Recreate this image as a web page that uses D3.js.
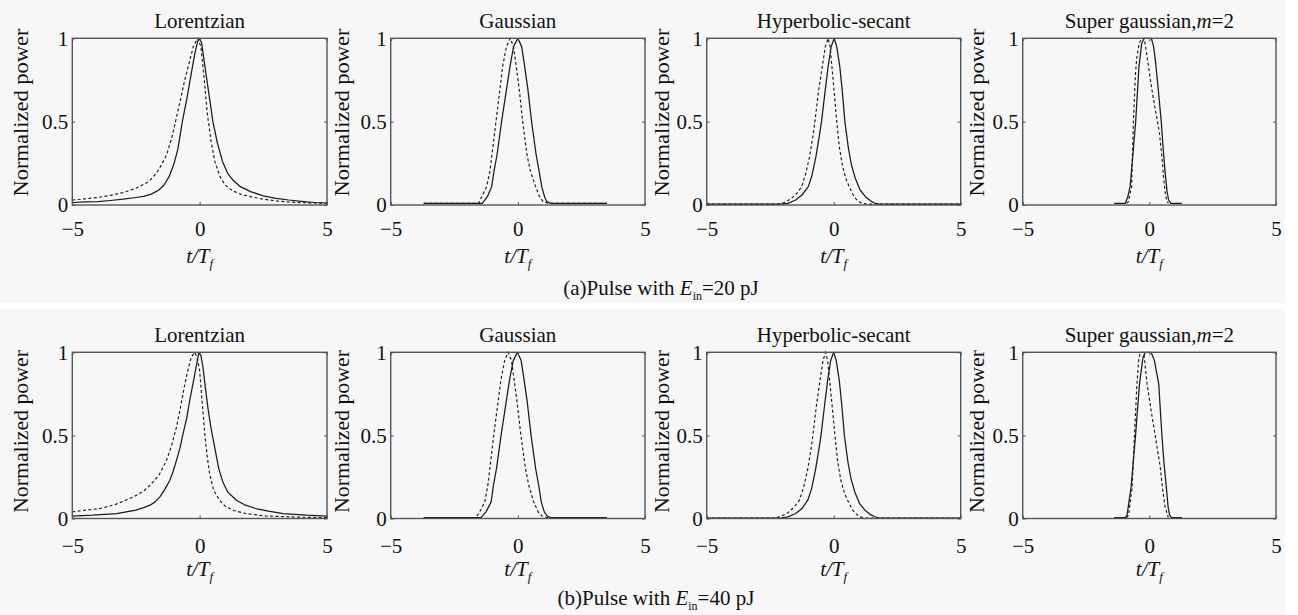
<!DOCTYPE html>
<html><head><meta charset="utf-8">
<script src="https://cdn.jsdelivr.net/npm/d3@7"></script>
<style>
html,body{margin:0;padding:0;background:#fff;}
svg text{font-family:"Liberation Serif","Times New Roman",serif;fill:#111;}
</style></head><body>
<svg id="chart" width="1298" height="615"></svg>
<script>
// ---------------- data (t/T_f , normalized power) ----------------
const panelTitles = ["Lorentzian", "Gaussian", "Hyperbolic-secant", "Super gaussian,m=2"];
const captionEnergies = ["20", "40"];
const captionLetters = ["(a)", "(b)"];
const xTicks = [-5, 0, 5];
const xTickLabels = ["\u22125", "0", "5"];
const yTicks = [0, 0.5, 1];
const yTickLabels = ["0", "0.5", "1"];

// Row (a): Ein = 20 pJ
const lor20Solid = [[-5,0.015],[-4.5,0.018],[-4,0.02],[-3.5,0.027],[-3,0.035],[-2.5,0.045],[-2.2,0.052],[-1.9,0.065],[-1.6,0.09],[-1.4,0.12],[-1.2,0.17],[-1.0,0.25],[-0.85,0.34],[-0.68,0.5],[-0.5,0.64],[-0.35,0.77],[-0.2,0.9],[-0.08,0.98],[0,1],[0.08,0.97],[0.2,0.84],[0.35,0.68],[0.52,0.5],[0.7,0.37],[0.9,0.26],[1.1,0.19],[1.3,0.15],[1.6,0.11],[2,0.08],[2.5,0.055],[3,0.04],[3.5,0.03],[4,0.022],[4.5,0.015],[5,0.012]];
const lor20Dash  = [[-5,0.03],[-4.5,0.037],[-4,0.045],[-3.5,0.058],[-3,0.075],[-2.5,0.1],[-2,0.14],[-1.7,0.19],[-1.5,0.24],[-1.3,0.3],[-1.1,0.4],[-0.95,0.5],[-0.8,0.6],[-0.6,0.74],[-0.4,0.86],[-0.25,0.95],[-0.08,1],[0.05,0.95],[0.15,0.8],[0.3,0.55],[0.45,0.38],[0.6,0.26],[0.8,0.17],[1.0,0.12],[1.3,0.085],[1.6,0.065],[2,0.05],[2.5,0.035],[3,0.025],[3.5,0.018],[4,0.014],[5,0.01]];
const gau20Solid = [[-3.7,0.01],[-1.4,0.01],[-1.2,0.05],[-1.03,0.11],[-0.94,0.2],[-0.82,0.3],[-0.64,0.5],[-0.44,0.7],[-0.31,0.83],[-0.17,0.95],[0,1],[0.15,0.95],[0.24,0.86],[0.39,0.7],[0.54,0.5],[0.72,0.3],[0.84,0.2],[0.94,0.11],[1.05,0.05],[1.14,0.02],[1.3,0.01],[3.5,0.01]];
const gau20Dash  = [[-3.7,0.01],[-1.55,0.01],[-1.42,0.05],[-1.23,0.11],[-1.1,0.2],[-1.02,0.3],[-0.86,0.5],[-0.7,0.7],[-0.6,0.83],[-0.45,0.95],[-0.3,1],[-0.17,0.95],[-0.08,0.85],[0.05,0.7],[0.19,0.5],[0.36,0.3],[0.5,0.2],[0.7,0.11],[0.85,0.05],[1.0,0.02],[1.2,0.01],[3.5,0.01]];
const hyp20Solid = [[-5,0.005],[-2.1,0.005],[-1.8,0.01],[-1.5,0.03],[-1.25,0.06],[-1.0,0.11],[-0.85,0.18],[-0.7,0.29],[-0.55,0.43],[-0.48,0.5],[-0.34,0.68],[-0.22,0.83],[-0.1,0.95],[0.02,1],[0.12,0.95],[0.24,0.83],[0.34,0.68],[0.44,0.5],[0.58,0.34],[0.7,0.24],[0.85,0.16],[1.04,0.09],[1.25,0.05],[1.45,0.025],[1.6,0.012],[1.8,0.005],[5,0.005]];
const hyp20Dash  = [[-5,0.005],[-2.2,0.005],[-1.95,0.015],[-1.7,0.035],[-1.45,0.07],[-1.26,0.11],[-1.1,0.19],[-0.95,0.29],[-0.8,0.43],[-0.74,0.5],[-0.6,0.68],[-0.45,0.83],[-0.33,0.95],[-0.22,1],[-0.14,0.95],[-0.07,0.83],[0.03,0.66],[0.12,0.5],[0.22,0.35],[0.35,0.23],[0.5,0.15],[0.64,0.1],[0.8,0.05],[0.95,0.025],[1.1,0.01],[1.3,0.005],[5,0.005]];
const sg20Solid  = [[-1.39,0.01],[-0.95,0.01],[-0.85,0.05],[-0.76,0.11],[-0.65,0.3],[-0.54,0.5],[-0.41,0.83],[-0.3,0.97],[-0.2,1],[0.08,1],[0.17,0.95],[0.25,0.85],[0.36,0.68],[0.47,0.5],[0.55,0.33],[0.62,0.2],[0.7,0.08],[0.76,0.03],[0.85,0.01],[1.28,0.01]];
const sg20Dash   = [[-0.9,0.01],[-0.83,0.02],[-0.7,0.11],[-0.63,0.5],[-0.55,0.78],[-0.5,0.88],[-0.4,0.97],[-0.3,1],[-0.2,1],[-0.05,0.85],[0.05,0.74],[0.2,0.6],[0.3,0.52],[0.4,0.43],[0.5,0.28],[0.56,0.17],[0.62,0.08],[0.68,0.03],[0.75,0.01]];

// Row (b): Ein = 40 pJ
const lor40Solid = [[-5,0.015],[-4.2,0.02],[-3.26,0.03],[-2.5,0.05],[-2.2,0.065],[-1.95,0.08],[-1.75,0.1],[-1.56,0.13],[-1.35,0.18],[-1.17,0.23],[-1.05,0.28],[-0.91,0.35],[-0.78,0.42],[-0.65,0.51],[-0.5,0.61],[-0.39,0.71],[-0.25,0.82],[-0.13,0.92],[-0.03,1],[0.05,0.98],[0.13,0.91],[0.23,0.78],[0.33,0.66],[0.45,0.54],[0.6,0.42],[0.75,0.3],[0.91,0.22],[1.1,0.16],[1.44,0.11],[1.8,0.08],[2.2,0.06],[2.7,0.045],[3.28,0.03],[4.2,0.02],[5,0.015]];
const lor40Dash  = [[-5,0.04],[-4.5,0.05],[-3.9,0.06],[-3.3,0.085],[-2.6,0.13],[-2.2,0.165],[-1.95,0.2],[-1.6,0.26],[-1.3,0.35],[-1.1,0.44],[-0.91,0.55],[-0.75,0.67],[-0.58,0.81],[-0.45,0.9],[-0.33,0.97],[-0.2,1],[-0.1,0.97],[0,0.89],[0.1,0.7],[0.2,0.51],[0.3,0.37],[0.39,0.27],[0.55,0.17],[0.78,0.11],[1.0,0.075],[1.3,0.05],[1.8,0.03],[2.6,0.015],[3.9,0.008],[5,0.005]];
const gau40Solid = [[-3.7,0.005],[-1.45,0.005],[-1.25,0.04],[-1.05,0.1],[-0.96,0.2],[-0.84,0.3],[-0.66,0.5],[-0.46,0.7],[-0.32,0.84],[-0.18,0.95],[-0.02,1],[0.13,0.95],[0.22,0.86],[0.37,0.7],[0.52,0.5],[0.7,0.3],[0.82,0.2],[0.92,0.1],[1.04,0.04],[1.15,0.015],[1.3,0.005],[3.5,0.005]];
const gau40Dash  = [[-3.7,0.005],[-1.65,0.005],[-1.5,0.04],[-1.3,0.1],[-1.18,0.2],[-1.1,0.3],[-0.95,0.5],[-0.78,0.7],[-0.66,0.84],[-0.52,0.95],[-0.38,1],[-0.25,0.95],[-0.16,0.85],[-0.03,0.7],[0.12,0.5],[0.3,0.3],[0.43,0.2],[0.62,0.1],[0.8,0.04],[0.95,0.015],[1.15,0.005],[3.5,0.005]];
const hyp40Solid = [[-5,0.003],[-2.1,0.003],[-1.8,0.01],[-1.5,0.03],[-1.25,0.06],[-1.02,0.11],[-0.87,0.18],[-0.72,0.29],[-0.57,0.43],[-0.5,0.5],[-0.36,0.68],[-0.24,0.83],[-0.12,0.95],[0,1],[0.1,0.95],[0.22,0.83],[0.32,0.68],[0.42,0.5],[0.56,0.34],[0.68,0.24],[0.83,0.16],[1.02,0.09],[1.23,0.05],[1.43,0.025],[1.6,0.012],[1.8,0.003],[5,0.003]];
const hyp40Dash  = [[-5,0.003],[-2.3,0.003],[-2.05,0.015],[-1.8,0.035],[-1.55,0.07],[-1.35,0.11],[-1.18,0.19],[-1.03,0.29],[-0.88,0.43],[-0.82,0.5],[-0.68,0.68],[-0.54,0.83],[-0.42,0.95],[-0.32,1],[-0.24,0.95],[-0.16,0.83],[-0.05,0.66],[0.05,0.5],[0.15,0.35],[0.28,0.23],[0.43,0.15],[0.58,0.1],[0.75,0.05],[0.9,0.025],[1.05,0.01],[1.25,0.003],[5,0.003]];
const sg40Solid  = [[-1.39,0.005],[-0.95,0.005],[-0.88,0.02],[-0.72,0.19],[-0.55,0.49],[-0.39,0.81],[-0.25,0.97],[-0.16,1],[0.07,1],[0.2,0.95],[0.37,0.81],[0.5,0.49],[0.58,0.33],[0.67,0.19],[0.74,0.07],[0.8,0.02],[0.88,0.005],[1.29,0.005]];
const sg40Dash   = [[-0.9,0.005],[-0.82,0.02],[-0.68,0.19],[-0.59,0.49],[-0.49,0.81],[-0.42,0.95],[-0.36,1],[-0.22,1],[-0.09,0.81],[0.08,0.64],[0.24,0.49],[0.43,0.31],[0.52,0.18],[0.62,0.07],[0.75,0.005]];

const rowSeries = [
  [[lor20Solid, lor20Dash], [gau20Solid, gau20Dash], [hyp20Solid, hyp20Dash], [sg20Solid, sg20Dash]],
  [[lor40Solid, lor40Dash], [gau40Solid, gau40Dash], [hyp40Solid, hyp40Dash], [sg40Solid, sg40Dash]]
];

// ---------------- layout ----------------
const colLeft = [72.3, 390.7, 706.7, 1022.7];
const colWidth = [254.7, 254.3, 254, 253.3];
const ylabOffset = [-44.5, -42, -38, -39];
const rowLayout = [
  {top: 38.3, bottom: 205, titleY: 28, tickPad: 16, xlabY: 263, ylabC: 112.5, ylabLen: 168, capX: 661, capY: 295},
  {top: 352.3, bottom: 518.5, titleY: 342, tickPad: 20, xlabY: 576, ylabC: 431.5, ylabLen: 163, capX: 656, capY: 605}
];
const FRAME = "#555", INK = "#1a1a1a";

const svg = d3.select("#chart");
svg.append("rect").attr("x", 0).attr("y", 0).attr("width", 1285).attr("height", 303).attr("fill", "#f7f7f7");
svg.append("rect").attr("x", 0).attr("y", 309).attr("width", 1285).attr("height", 306).attr("fill", "#f7f7f7");

rowLayout.forEach((R, r) => {
  rowSeries[r].forEach((pair, c) => {
    const L = colLeft[c], Wd = colWidth[c];
    const x = d3.scaleLinear().domain([-5, 5]).range([L, L + Wd]);
    const y = d3.scaleLinear().domain([0, 1]).range([R.bottom, R.top]);
    const g = svg.append("g");
    const line = d3.line().x(d => x(d[0])).y(d => y(d[1]));

    g.append("path").datum(pair[0]).attr("d", line)
      .attr("fill", "none").attr("stroke", INK).attr("stroke-width", 1.25).attr("stroke-linejoin", "round");
    g.append("path").datum(pair[1]).attr("d", line)
      .attr("fill", "none").attr("stroke", INK).attr("stroke-width", 1.15)
      .attr("stroke-dasharray", "3,2.4");

    // frame
    g.append("rect").attr("x", x(-5)).attr("y", y(1)).attr("width", x(5) - x(-5)).attr("height", y(0) - y(1))
      .attr("fill", "none").attr("stroke", FRAME).attr("stroke-width", 1.4);

    const style = sel => {
      sel.select(".domain").remove();
      sel.attr("font-size", null).attr("font-family", null);
      sel.selectAll("line").attr("stroke", FRAME);
      sel.selectAll("text").attr("font-size", 21).attr("fill", INK);
    };
    g.append("g").attr("transform", `translate(0,${R.bottom})`)
      .call(d3.axisBottom(x).tickValues(xTicks).tickFormat((d, i) => xTickLabels[i]).tickSize(-3).tickSizeOuter(0).tickPadding(R.tickPad))
      .call(style);
    g.append("g").attr("transform", `translate(0,${R.top})`)
      .call(d3.axisTop(x).tickValues(xTicks).tickFormat("").tickSize(-3).tickSizeOuter(0))
      .call(style);
    g.append("g").attr("transform", `translate(${L},0)`)
      .call(d3.axisLeft(y).tickValues(yTicks).tickFormat((d, i) => yTickLabels[i]).tickSize(-3).tickSizeOuter(0).tickPadding(4))
      .call(style);
    g.append("g").attr("transform", `translate(${L + Wd},0)`)
      .call(d3.axisRight(y).tickValues(yTicks).tickFormat("").tickSize(-3).tickSizeOuter(0))
      .call(style);

    // title
    const t = g.append("text").attr("x", L + Wd / 2).attr("y", R.titleY).attr("text-anchor", "middle").attr("font-size", 21);
    if (c === 3) {
      t.append("tspan").text("Super gaussian,");
      t.append("tspan").attr("font-style", "italic").text("m");
      t.append("tspan").text("=2");
    } else {
      t.text(panelTitles[c]);
    }

    // x label
    const xl = g.append("text").attr("x", L + Wd / 2).attr("y", R.xlabY).attr("text-anchor", "middle")
      .attr("font-size", 21).attr("font-style", "italic");
    xl.append("tspan").text("t/T");
    xl.append("tspan").attr("font-size", 13).attr("dy", 5).text("f");

    // y label
    g.append("text")
      .attr("transform", `translate(${L + ylabOffset[c]},${R.ylabC}) rotate(-90)`)
      .attr("text-anchor", "middle").attr("font-size", 21)
      .attr("textLength", R.ylabLen).attr("lengthAdjust", "spacingAndGlyphs")
      .text("Normalized power");
  });

  // caption
  const cap = svg.append("text").attr("x", R.capX).attr("y", R.capY).attr("text-anchor", "middle").attr("font-size", 21);
  cap.append("tspan").text(captionLetters[r] + "Pulse with ");
  cap.append("tspan").attr("font-style", "italic").text("E");
  cap.append("tspan").attr("font-size", 12).attr("dy", 5).text("in");
  cap.append("tspan").attr("dy", -5).text("=" + captionEnergies[r] + " pJ");
});
</script>
</body></html>
